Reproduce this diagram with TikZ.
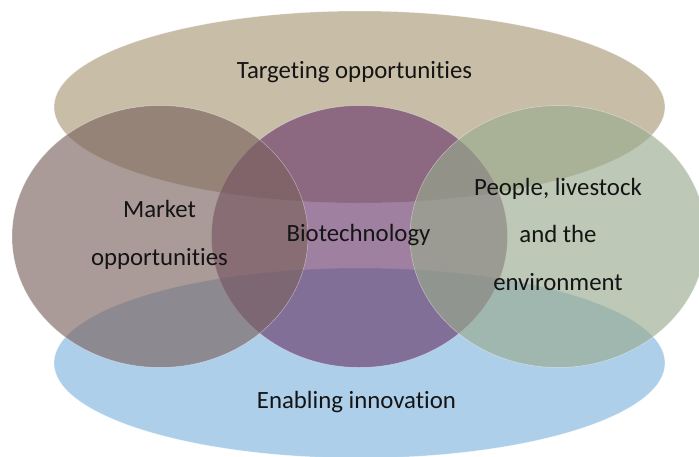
\documentclass[tikz,border=0pt]{standalone}
\usepackage{fontspec}
\setmainfont{Carlito}[Ligatures={NoCommon}]
\usetikzlibrary{shapes.geometric}
\definecolor{tanc}{RGB}{200,190,168}
\definecolor{bluec}{RGB}{173,207,233}
\definecolor{leftc}{RGB}{122,99,94}
\definecolor{midc}{RGB}{107,57,107}
\definecolor{rightc}{RGB}{152,171,141}
\definecolor{txt}{RGB}{20,20,20}
\tikzset{
  bigoval/.style={ellipse, inner sep=0pt, minimum width=611pt, minimum height=192pt, draw=white, draw opacity=0.5, line width=0.5pt},
  circ/.style={ellipse, inner sep=0pt, minimum width=296pt, minimum height=262pt, fill opacity=0.64, draw=white, draw opacity=0.45, line width=0.5pt},
  lbl/.style={text=txt, font=\fontsize{24.8pt}{47.5pt}\selectfont, align=center, anchor=base, inner sep=0pt}
}
\begin{document}
\begin{tikzpicture}[x=1pt,y=-1pt]
\useasboundingbox (0,0) rectangle (699,456);
\begin{scope}
\clip (0,0) rectangle (699,456);
\node[bigoval, fill=tanc] (top) at (359.5,107) {};
\node[bigoval, fill=bluec, minimum height=190pt] (bot) at (359.5,363) {};
\node[circ, fill=midc] (mid) at (359.5,236.5) {};
\node[circ, fill=leftc] (lft) at (160,236.5) {};
\node[circ, fill=rightc] (rgt) at (558,236.5) {};
\end{scope}
\node[lbl] (ttop) at (354.5,78) {Targeting opportunities};
\node[lbl] (tbot) at (356.5,408) {Enabling innovation};
\node[lbl] (tmid) at (358.5,241.5) {Biotechnology};
\node[lbl] (tlft) at (159.5,265) {Market\\opportunities};
\node[lbl] (trgt) at (558,290) {People, livestock\\and the\\environment};
\end{tikzpicture}
\end{document}
